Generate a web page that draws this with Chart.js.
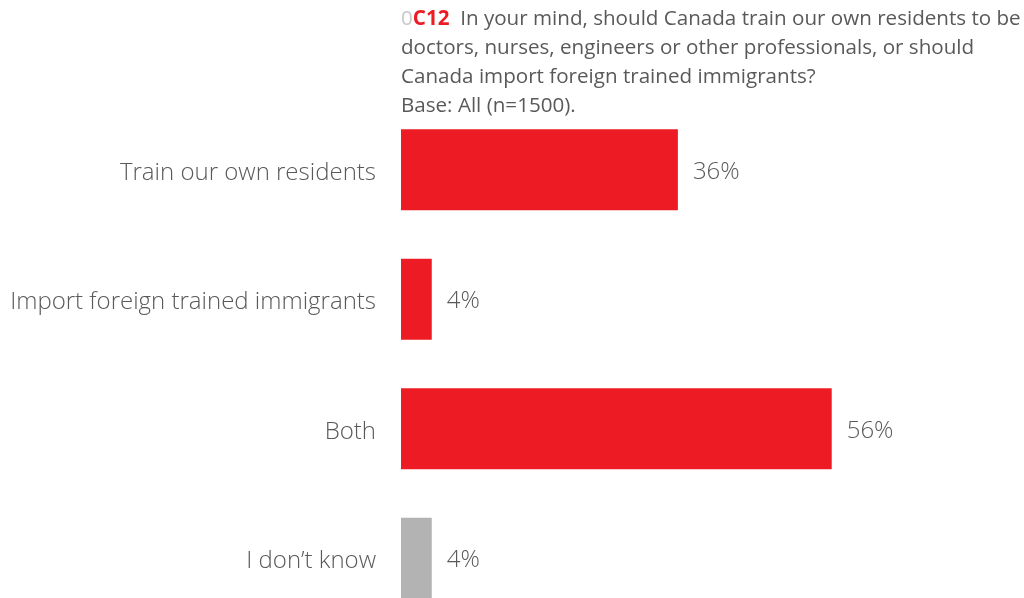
<!DOCTYPE html>
<html>
<head>
<meta charset="utf-8">
<script src="https://cdn.jsdelivr.net/npm/chart.js@4/dist/chart.umd.min.js"></script>
<style>
  html, body { margin: 0; padding: 0; background: #fff; overflow: hidden; }
  #wrap { position: relative; width: 1024px; height: 625px; }
  #chart { position: absolute; left: 0; top: 0; width: 1024px; height: 625px; }
  #question {
    position: absolute; left: 401px; top: 3px;
    font-family: "Open Sans", "Segoe UI", sans-serif; font-weight: 400;
    font-size: 20.6px; line-height: 29px; color: #595959; white-space: nowrap;
  }
  #question .pre { color: #c8c8c8; }
  #question .code { color: #ed1c24; font-weight: 700; }
</style>
</head>
<body>
<div id="wrap">
  <canvas id="chart" width="1024" height="625"></canvas>
  <div id="question"><span class="pre">0</span><span class="code">C12</span>&nbsp; In your mind, should Canada train our own residents to be<br>doctors, nurses, engineers or other professionals, or should<br>Canada import foreign trained immigrants?<br>Base: All (n=1500).</div>
</div>
<script>
const categories = ["Train our own residents", "Import foreign trained immigrants", "Both", "I don\u2019t know"];
const shares = [36, 4, 56, 4];
const barColors = ["#ed1c24", "#ed1c24", "#ed1c24", "#b3b3b3"];

const textColor = "#595959";
const fontFamily = '"Open Sans", "Segoe UI", sans-serif';

// Percent labels to the right of each bar
const valueLabels = {
  id: "valueLabels",
  afterDatasetsDraw(chart) {
    const ctx = chart.ctx;
    const meta = chart.getDatasetMeta(0);
    ctx.save();
    ctx.font = "300 24px " + fontFamily;
    ctx.fillStyle = textColor;
    ctx.textAlign = "left";
    ctx.textBaseline = "middle";
    meta.data.forEach((bar, i) => {
      ctx.fillText(shares[i] + "%", bar.x + 15, bar.y + 2);
    });
    ctx.restore();
  }
};

new Chart(document.getElementById("chart"), {
  type: "bar",
  data: {
    labels: categories,
    datasets: [{
      data: shares,
      backgroundColor: barColors,
      borderWidth: 0,
      barPercentage: 0.625,
      categoryPercentage: 1
    }]
  },
  options: {
    indexAxis: "y",
    responsive: false,
    maintainAspectRatio: false,
    animation: false,
    layout: { padding: { top: 105, bottom: 2, left: 0, right: 0 } },
    plugins: {
      legend: { display: false },
      tooltip: { enabled: false }
    },
    scales: {
      x: {
        display: false,
        min: 0,
        max: 81
      },
      y: {
        grid: { display: false, drawTicks: false },
        border: { display: false },
        ticks: {
          padding: 25,
          labelOffset: 3,
          color: textColor,
          font: { family: fontFamily, size: 24, weight: 300 }
        },
        afterFit(scale) {
          // fixed label column; the category bands run the full plot height
          scale.width = 401;
          scale.paddingTop = 0;
          scale.paddingBottom = 0;
        }
      }
    }
  },
  plugins: [valueLabels]
});
</script>
</body>
</html>
